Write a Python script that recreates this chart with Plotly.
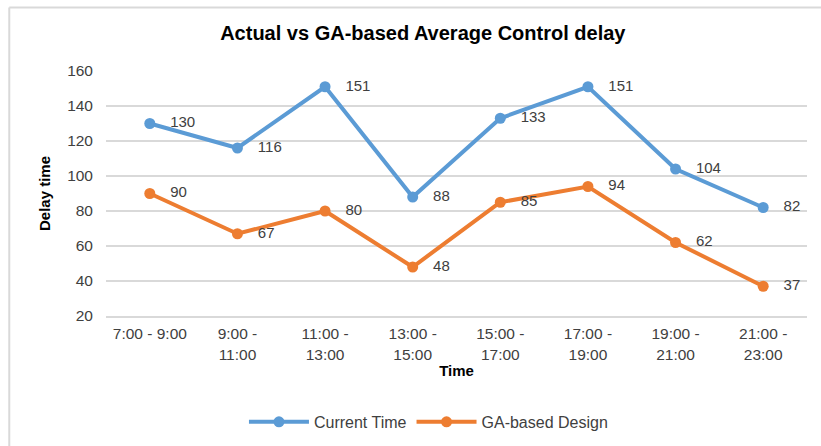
import plotly.graph_objects as go

categories = ["7:00 - 9:00", "9:00 -<br>11:00", "11:00 -<br>13:00", "13:00 -<br>15:00",
              "15:00 -<br>17:00", "17:00 -<br>19:00", "19:00 -<br>21:00", "21:00 -<br>23:00"]
current_time = [130, 116, 151, 88, 133, 151, 104, 82]
ga_design = [90, 67, 80, 48, 85, 94, 62, 37]
y_ticks = [20, 40, 60, 80, 100, 120, 140, 160]

FONT = "Liberation Sans, Arial, sans-serif"
BLUE = "#5B9BD5"
ORANGE = "#ED7D31"

fig = go.Figure()
for name, vals, col in [("Current Time", current_time, BLUE), ("GA-based Design", ga_design, ORANGE)]:
    fig.add_trace(go.Scatter(
        x=categories, y=vals, name=name, mode="lines+markers+text",
        line=dict(color=col, width=4), marker=dict(color=col, size=11),
        text=["   " + str(v) for v in vals], textposition="middle right",
        textfont=dict(family=FONT, size=15, color="#404040"),
        cliponaxis=False,
    ))

fig.update_layout(
    width=821, height=446,
    margin=dict(l=106, r=14, t=71, b=130),
    paper_bgcolor="white", plot_bgcolor="white",
    font=dict(family=FONT, size=15, color="#404040"),
    title=dict(text="<b>Actual vs GA-based Average Control delay</b>",
               x=0.515, xanchor="center", y=0.925, yanchor="middle",
               font=dict(family=FONT, size=20, color="black")),
    showlegend=True,
    legend=dict(orientation="h", x=0.46, xanchor="center",
                yref="container", y=0.054, yanchor="middle",
                font=dict(family=FONT, size=16, color="#404040"), itemwidth=60),
    xaxis=dict(
        title=dict(text="<b>Time</b>", font=dict(family=FONT, size=15, color="black"), standoff=4),
        showgrid=False, showline=True, linecolor="#D9D9D9", linewidth=1.5,
        ticks="", tickfont=dict(size=15.5, color="#404040"),
        ticklabelstandoff=3,
        range=[-0.5, 7.5], automargin=False,
    ),
    yaxis=dict(
        title=dict(text="<b>Delay time</b>", font=dict(family=FONT, size=15, color="black"), standoff=12),
        range=[20, 160], tickvals=y_ticks, showgrid=True, gridcolor="#D9D9D9", gridwidth=1.5,
        zeroline=False, showline=False, ticks="", tickfont=dict(size=15.5, color="#404040"),
        ticklabelstandoff=12,
        automargin=False,
    ),
)

# chart border (top and left)
fig.add_shape(type="line", xref="paper", yref="paper", x0=-0.138, x1=1.03, y0=1.259, y1=1.259,
              line=dict(color="#D9D9D9", width=2))
fig.add_shape(type="line", xref="paper", yref="paper", x0=-0.138, x1=-0.138, y0=1.259, y1=-0.54,
              line=dict(color="#D9D9D9", width=2))

fig.write_html("out.html", config={"displayModeBar": False},
               post_script="document.body.style.margin='0px';")
